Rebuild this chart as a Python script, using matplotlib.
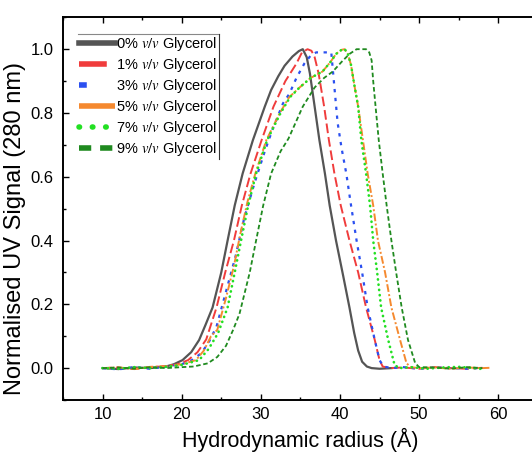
import numpy as np
import matplotlib
matplotlib.use("Agg")
import matplotlib.pyplot as plt
from matplotlib.lines import Line2D

plt.rcParams['font.family'] = ['Liberation Sans', 'DejaVu Sans']
plt.rcParams['mathtext.fontset'] = 'stix'

# hydrodynamic radius (A) / normalised signal
r_0 = [10, 12, 14, 16, 18, 19, 20.1, 21.2, 22.2, 23.0, 23.9, 25.0, 25.8, 26.7, 27.7, 29.0, 30.5,
       31.3, 32.2, 33.0, 34.0, 34.8, 35.3, 35.8, 36.2, 36.8, 37.4, 38.1, 38.7, 39.5, 40.4, 41.2,
       41.8, 42.3, 42.8, 43.4, 44.0, 45.0, 46.5]
s_0 = [0.0, -0.003, 0.002, 0.0, 0.005, 0.012, 0.025, 0.05, 0.088, 0.135, 0.19, 0.30, 0.40, 0.51,
       0.61, 0.715, 0.82, 0.872, 0.915, 0.948, 0.977, 0.994, 1.0, 0.975, 0.924, 0.82, 0.715, 0.61,
       0.51, 0.40, 0.29, 0.19, 0.11, 0.055, 0.02, 0.005, 0.0, -0.002, 0.0]

r_1 = [10, 12, 14, 16, 18, 19.5, 20.8, 22.0, 23.1, 24.4, 25.5, 26.6, 27.6, 28.7, 30.1, 31.6, 33.1,
       34.5, 35.2, 35.9, 36.4, 36.8, 37.3, 38.0, 38.6, 39.3, 40.1, 41.2, 42.3, 43.3, 44.4, 45.0,
       45.4, 46.3, 48, 50, 52, 54, 56, 58]
s_1 = [0.0, 0.002, -0.003, 0.003, 0.006, 0.012, 0.025, 0.05, 0.09, 0.19, 0.30, 0.40, 0.51, 0.61,
       0.715, 0.82, 0.90, 0.955, 0.99, 1.0, 0.995, 0.975, 0.924, 0.82, 0.715, 0.61, 0.51, 0.40,
       0.30, 0.19, 0.088, 0.025, 0.005, 0.0, 0.002, -0.002, 0.003, 0.0, -0.002, 0.001]

r_3 = [10, 12, 14, 16, 18, 20, 21.3, 22.5, 23.5, 24.4, 25.6, 26.8, 27.9, 29.2, 30.5, 31.5, 32.8,
       33.6, 34.5, 35.5, 36.3, 37.0, 38.0, 38.9, 39.3, 39.7, 40.2, 40.8, 41.4, 42.1, 42.8, 43.5,
       44.4, 45.0, 45.5, 46.5, 48, 50, 52, 54, 56, 58]
s_3 = [0.0, -0.004, 0.003, -0.002, 0.005, 0.012, 0.025, 0.047, 0.085, 0.13, 0.24, 0.35, 0.47,
       0.58, 0.68, 0.75, 0.83, 0.86, 0.91, 0.955, 0.98, 0.99, 0.99, 0.99, 0.88, 0.77, 0.69, 0.61,
       0.51, 0.40, 0.30, 0.19, 0.088, 0.025, 0.005, 0.0, 0.003, -0.002, 0.002, 0.0, -0.002, 0.001]

r_5 = [10, 12, 14, 16, 18, 20, 21.8, 22.8, 23.7, 24.5, 25.6, 26.6, 27.4, 28.3, 29.3, 30.7, 32.4,
       33.6, 34.9, 36.3, 37.8, 38.8, 39.5, 40.2, 40.6, 41.0, 41.4, 41.8, 42.3, 42.9, 43.5, 44.2,
       44.8, 45.7, 46.5, 47.6, 48.4, 48.9, 50, 52, 54, 56, 58, 59]
s_5 = [0.0, 0.002, -0.003, 0.004, 0.006, 0.012, 0.025, 0.055, 0.10, 0.12, 0.22, 0.32, 0.42, 0.52,
       0.61, 0.715, 0.80, 0.85, 0.88, 0.91, 0.93, 0.96, 0.985, 0.998, 1.0, 0.985, 0.95, 0.89, 0.82,
       0.715, 0.61, 0.51, 0.40, 0.30, 0.19, 0.088, 0.016, 0.003, 0.0, 0.002, -0.002, 0.002, 0.0,
       0.001]

r_7 = [10, 12, 14, 16, 18, 20, 22.2, 23.4, 24.6, 25.8, 26.7, 27.5, 28.4, 29.4, 30.8, 32.5, 33.7,
       34.9, 36.3, 37.8, 38.8, 39.5, 40.2, 40.6, 41.0, 41.4, 41.8, 42.3, 42.7, 43.3, 43.8, 44.2,
       44.7, 45.2, 46.1, 46.9, 47.5, 49, 51, 53, 55, 57, 58]
s_7 = [0.0, -0.002, 0.003, 0.0, 0.004, 0.01, 0.025, 0.06, 0.11, 0.19, 0.30, 0.40, 0.51, 0.61,
       0.715, 0.80, 0.85, 0.88, 0.91, 0.93, 0.96, 0.985, 0.998, 1.0, 0.985, 0.95, 0.89, 0.82, 0.715,
       0.61, 0.51, 0.40, 0.30, 0.19, 0.088, 0.01, 0.0, 0.003, -0.002, 0.002, 0.004, 0.0, -0.003]

r_9 = [10, 12, 14, 16, 18, 20, 21.5, 23.3, 24.5, 25.6, 26.5, 27.3, 28.0, 28.6, 29.4, 30.3, 31.3,
       32.5, 33.5, 35.3, 36.8, 38.0, 39.1, 40.2, 41.2, 42.1, 43.3, 43.7, 44.0, 44.2, 44.5, 44.9,
       45.4, 45.9, 46.5, 47.1, 47.8, 48.6, 49.5, 50.0, 52, 54, 56, 58]
s_9 = [0.0, 0.002, -0.002, 0.003, 0.0, 0.003, 0.005, 0.015, 0.035, 0.07, 0.12, 0.17, 0.24, 0.30,
       0.40, 0.51, 0.61, 0.68, 0.72, 0.82, 0.88, 0.91, 0.93, 0.96, 0.985, 1.0, 1.0, 0.99, 0.965,
       0.90, 0.82, 0.715, 0.61, 0.51, 0.40, 0.30, 0.19, 0.088, 0.016, 0.003, 0.002, -0.002, 0.003,
       0.0]

labels = [r'0% $v/v$ Glycerol', r'1% $v/v$ Glycerol', r'3% $v/v$ Glycerol',
          r'5% $v/v$ Glycerol', r'7% $v/v$ Glycerol', r'9% $v/v$ Glycerol']

series = [(r_0, s_0), (r_1, s_1), (r_3, s_3), (r_5, s_5), (r_7, s_7), (r_9, s_9)]
colors = ['#555555', '#F03C3C', '#2B50F0', '#F5892F', '#22E022', '#1F8A1F']
dashes = [None, (5, 2), (1.5, 2.5), (4, 1.2, 1, 1.2), (0.1, 1.9), (2.5, 1.5)]
leg_dashes = [None, (5, 3), (1.4, 8), (7, 1, 1, 1), (0.1, 2.3), (2.2, 1.6)]
widths = [1.6, 1.4, 1.6, 1.4, 1.9, 1.3]

fig = plt.figure(figsize=(5.32, 4.53), dpi=100)
ax = fig.add_axes([63 / 532, 1 - 400 / 453, 474.8 / 532, (400 - 17.3) / 453])

for (r, s), c, d, w, lab in zip(series, colors, dashes, widths, labels):
    line, = ax.plot(r, s, color=c, lw=w, label=lab)
    if d is not None:
        line.set_dashes(d)
        line.set_dash_capstyle('round' if d[0] < 0.5 else 'butt')

ax.set_xlim(5, 65)
ax.set_ylim(-0.1, 1.1)
ax.set_xticks([10, 20, 30, 40, 50, 60])
ax.set_xticks(np.arange(5, 65, 5), minor=True)
ax.set_yticks([0.0, 0.2, 0.4, 0.6, 0.8, 1.0])
ax.set_yticks(np.arange(-0.1, 1.11, 0.1), minor=True)
ax.set_yticklabels(['0.0', '0.2', '0.4', '0.6', '0.8', '1.0'])
ax.tick_params(which='both', direction='in', top=True, right=True, width=1.0, labelsize=12)
ax.tick_params(which='major', length=4.5)
ax.tick_params(which='minor', length=2.5)
ax.tick_params(axis='y', pad=7)
ax.tick_params(axis='x', pad=5)
for sp in ax.spines.values():
    sp.set_linewidth(1.4)

ax.set_xlabel('Hydrodynamic radius (Å)', fontsize=15.5, labelpad=4)
ax.set_ylabel('Normalised UV Signal (280 nm)', fontsize=17)
ax.yaxis.set_label_coords(-0.077, 0.449)

leg = ax.legend(loc='upper left', bbox_to_anchor=(0.031, 0.957), borderaxespad=0,
                frameon=False, fontsize=10.5, handlelength=2.45, handletextpad=0.1,
                labelspacing=0.2, borderpad=0.1)
for hl, d in zip(leg.get_lines(), leg_dashes):
    hl.set_linewidth(4)
    if d is not None:
        hl.set_dashes(d)
        if d[0] < 0.5:
            hl.set_dash_capstyle('round')

# Origin-style legend frame: only top and right edges visible
fig.canvas.draw()
bb = leg.get_window_extent().transformed(fig.transFigure.inverted())
fig.add_artist(Line2D([bb.x0, bb.x1], [bb.y1, bb.y1], transform=fig.transFigure,
                      color='#888888', lw=0.8))
fig.add_artist(Line2D([bb.x1, bb.x1], [bb.y0, bb.y1], transform=fig.transFigure,
                      color='#333333', lw=0.8))

fig.savefig('out.png', dpi=100)
